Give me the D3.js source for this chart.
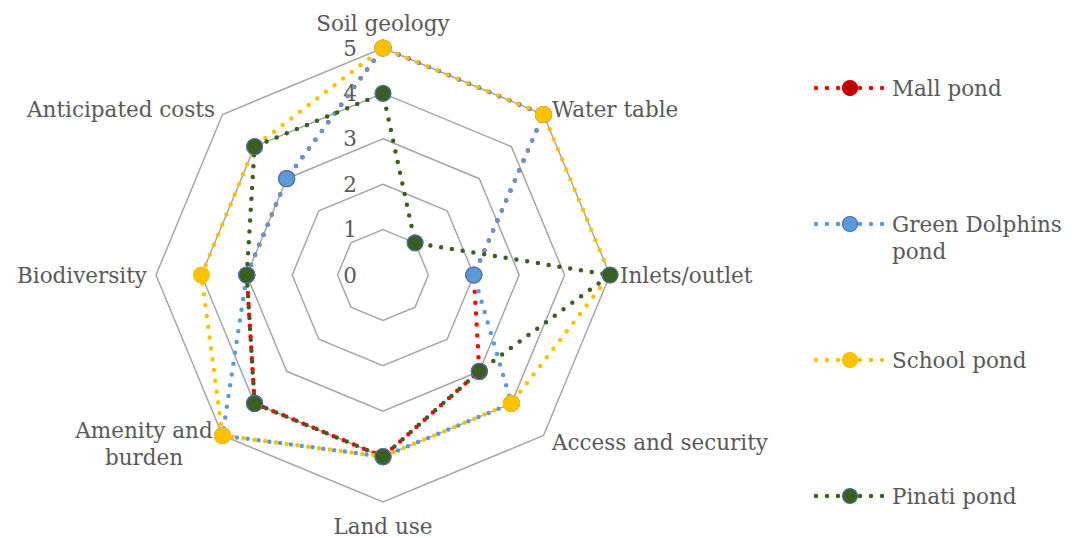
<!DOCTYPE html>
<html><head><meta charset="utf-8">
<script src="https://cdn.jsdelivr.net/npm/d3@7"></script>
<style>body{margin:0;background:#fff;overflow:hidden}</style>
</head><body>
<svg id="chart" width="1076" height="538"></svg>
<script>
// ---- data ----
const categories = ["Soil geology","Water table","Inlets/outlet","Access and security","Land use","Amenity and burden","Biodiversity","Anticipated costs"];
const seriesNames = ["Mall pond","Green Dolphins pond","School pond","Pinati pond"];
const mallPond = [5,5,2,3,4,4,3,3];
const greenDolphinsPond = [5,5,2,4,4,5,3,3];
const schoolPond = [5,5,5,4,4,5,4,4];
const pinatiPond = [4,1,5,3,4,4,3,4];
const tickValues = [0,1,2,3,4,5];

// ---- styles ----
const FONT = "DejaVu Serif";
const TEXT = "#595959";
const GRID = "#A6A6A6";
const styles = [
  {line:"#FF0000", fill:"#C00000", stroke:"#C00000"},
  {line:"#5B9BD5", fill:"#5B9BD5", stroke:"#4472C4"},
  {line:"#FFC000", fill:"#FFC000", stroke:"#FFC000"},
  {line:"#3A5F1E", fill:"#3A5F1E", stroke:"#4472C4"}
];
const seriesValues = [mallPond, greenDolphinsPond, schoolPond, pinatiPond];

const svg = d3.select("#chart");
const cx = 383, cy = 275, R = 227;

// fit font size so label widths match reference scale
const probe = svg.append("text").attr("font-family", FONT).attr("font-size", 100).text("Anticipated costs");
const fs = 100 * 188 / probe.node().getComputedTextLength();
probe.remove();

const r = d3.scaleLinear().domain([0, 5]).range([0, R]);
const ang = d3.scaleLinear().domain([0, categories.length]).range([0, 2 * Math.PI]);
const polar = (v, i) => [cx + r(v) * Math.sin(ang(i)), cy - r(v) * Math.cos(ang(i))];

const g = svg.append("g");

// grid rings
const ringLine = d3.lineRadial().angle((d, i) => ang(i)).radius(d => r(d)).curve(d3.curveLinearClosed);
g.append("g").attr("transform", `translate(${cx},${cy})`)
  .selectAll("path").data(tickValues.filter(t => t > 0)).join("path")
  .attr("d", t => ringLine(categories.map(() => t)))
  .attr("fill", "none").attr("stroke", GRID).attr("stroke-width", 1.5);

// tick labels
g.append("g").selectAll("text").data(tickValues).join("text")
  .attr("x", cx - 33).attr("y", t => cy - r(t))
  .attr("dy", "0.35em").attr("text-anchor", "middle")
  .attr("font-family", FONT).attr("font-size", fs).attr("fill", TEXT)
  .text(d => d);

// axis labels
const labelLayout = [
  {anchor:"middle", dx:0, dy:-17},
  {anchor:"start", dx:8.5, dy:2.5},
  {anchor:"start", dx:10, dy:8},
  {anchor:"start", dx:8.5, dy:14.5},
  {anchor:"middle", dx:0, dy:32},
  {anchor:"middle", dx:-78.5, dy:2.5, breakAfter:2},
  {anchor:"end", dx:-9, dy:8},
  {anchor:"end", dx:-7.5, dy:2.5}
];
categories.forEach((c, i) => {
  const [x, y] = polar(5, i);
  const L = labelLayout[i];
  const words = c.split(" ");
  const lines = L.breakAfter ? [words.slice(0, L.breakAfter).join(" "), words.slice(L.breakAfter).join(" ")] : [c];
  const t = g.append("text").attr("font-family", FONT).attr("font-size", fs).attr("fill", TEXT)
    .attr("text-anchor", L.anchor);
  lines.forEach((ln, k) => {
    t.append("tspan").attr("x", x + L.dx).attr("y", y + L.dy + k * 27).text(ln);
  });
});

// series (path starts at Biodiversity so the dot phase mirrors the reference)
const startIdx = 6;
const seriesLine = d3.lineRadial().angle(d => ang(d.i)).radius(d => r(d.v)).curve(d3.curveLinearClosed);
seriesValues.forEach((vals, s) => {
  const st = styles[s];
  const sg = g.append("g");
  const pts = vals.map((v, i) => ({v, i}));
  const ordered = pts.slice(startIdx).concat(pts.slice(0, startIdx));
  sg.append("path").attr("transform", `translate(${cx},${cy})`)
    .attr("d", seriesLine(ordered))
    .attr("fill", "none").attr("stroke", st.line).attr("stroke-width", 4.5)
    .attr("stroke-linecap", "round").attr("stroke-dasharray", "0 10.9");
  sg.selectAll("circle").data(vals).join("circle")
    .attr("cx", (d, i) => polar(d, i)[0]).attr("cy", (d, i) => polar(d, i)[1])
    .attr("r", 8).attr("fill", st.fill).attr("stroke", st.stroke).attr("stroke-width", 1.2);
});

// legend
const legendY = d3.scalePoint().domain(seriesNames).range([88, 496]);
const lg = svg.append("g");
seriesNames.forEach((name, s) => {
  const st = styles[s];
  const y = legendY(name);
  lg.append("line").attr("x1", 816).attr("x2", 884).attr("y1", y).attr("y2", y)
    .attr("stroke", st.line).attr("stroke-width", 4.5).attr("stroke-linecap", "round")
    .attr("stroke-dasharray", "0 11");
  lg.append("circle").attr("cx", 850).attr("cy", y).attr("r", 7.5)
    .attr("fill", st.fill).attr("stroke", st.stroke).attr("stroke-width", 1.2);
  const maxW = 180;
  const t = lg.append("text").attr("font-family", FONT).attr("font-size", fs).attr("fill", TEXT);
  const words = name.split(" ");
  let lines = [], cur = "";
  words.forEach(w => {
    const test = cur ? cur + " " + w : w;
    t.text(test);
    if (t.node().getComputedTextLength() > maxW && cur) { lines.push(cur); cur = w; } else cur = test;
  });
  lines.push(cur);
  t.text(null);
  lines.forEach((ln, k) => t.append("tspan").attr("x", 892).attr("y", y + 8 + k * 27).text(ln));
});
</script>
</body></html>
